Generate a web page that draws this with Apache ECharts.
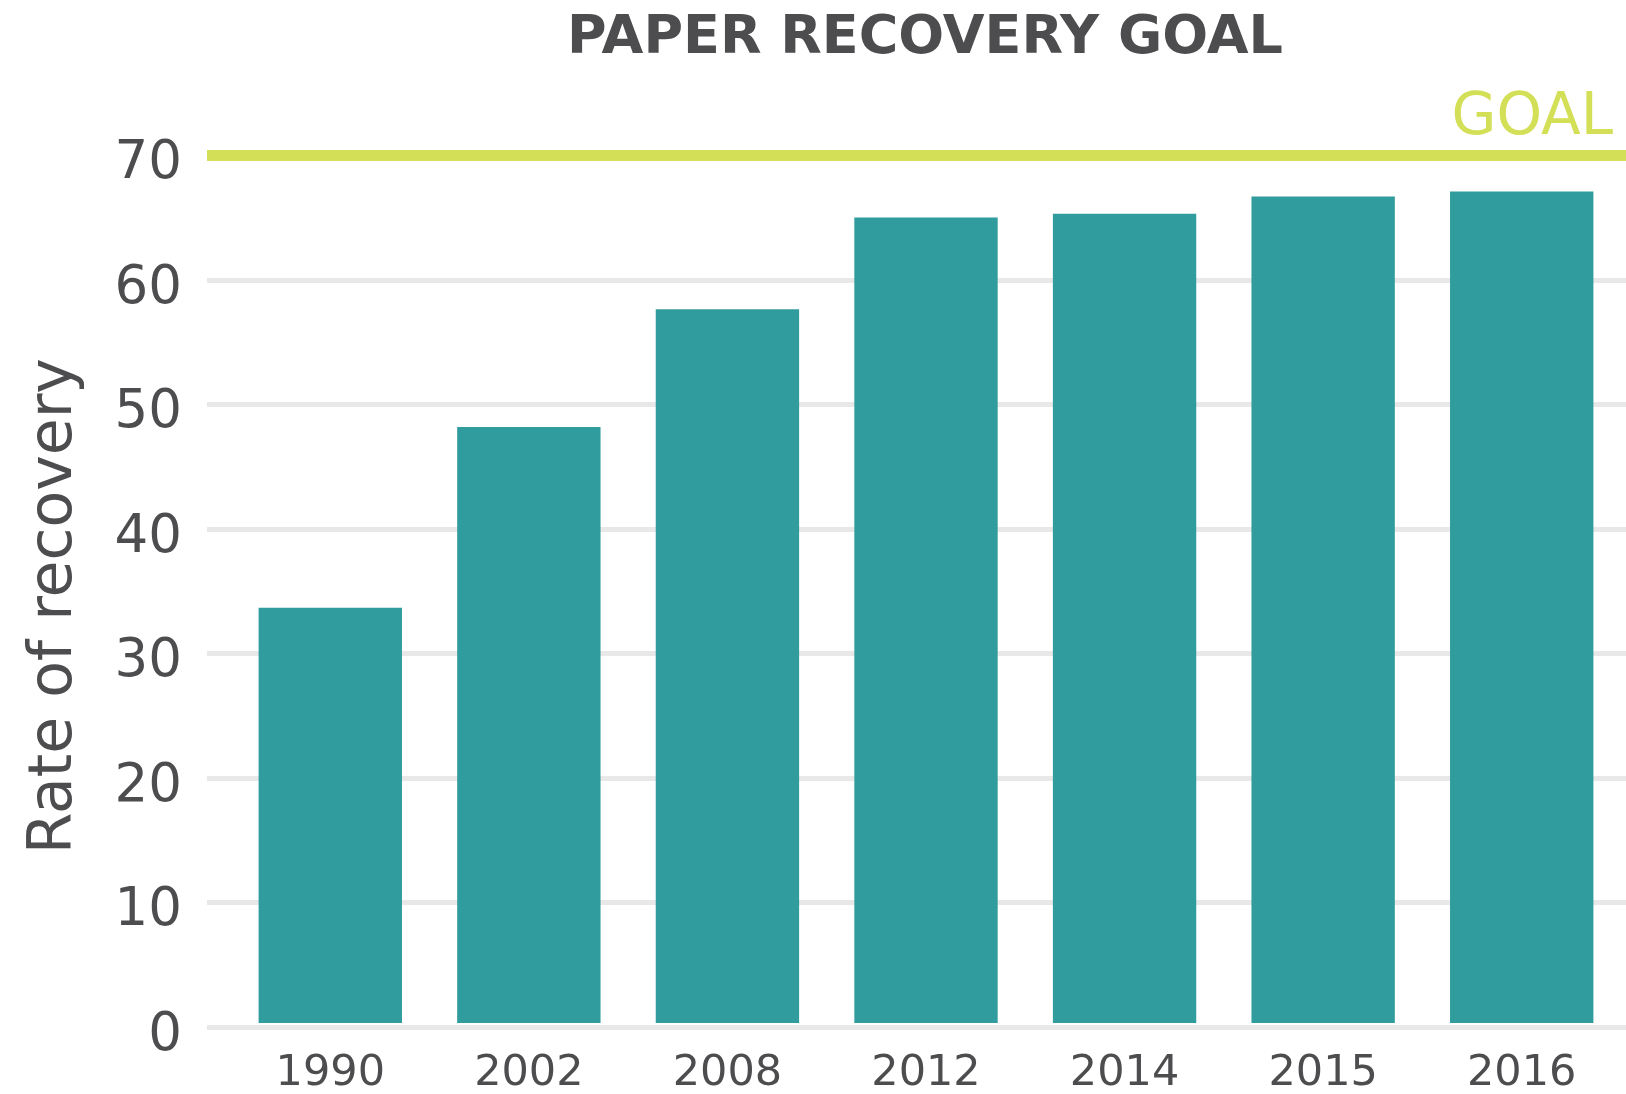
<!DOCTYPE html>
<html>
<head>
<meta charset="utf-8">
<script src="https://cdn.jsdelivr.net/npm/echarts@6/dist/echarts.min.js"></script>
<style>
  html, body { margin: 0; padding: 0; background: #fff; }
  #main { width: 1626px; height: 1094px; }
</style>
</head>
<body>
<div id="main"></div>
<script>
var years = ['1990', '2002', '2008', '2012', '2014', '2015', '2016'];
var recoveryRate = [33.5, 48.1, 57.6, 65.0, 65.3, 66.7, 67.1];
var goalValue = 70;
var yTicks = { min: 0, max: 70, interval: 10 };

var textColor = '#4d4d4f';
var barColor = '#309c9d';
var goalColor = '#d3df56';
var font = 'DejaVu Sans';

var chart = echarts.init(document.getElementById('main'));

var option = {
  backgroundColor: '#ffffff',
  animation: false,
  title: {
    text: 'PAPER RECOVERY GOAL',
    left: 920,
    textAlign: 'center',
    top: 7,
    textStyle: {
      fontFamily: font,
      fontWeight: 'bold',
      fontSize: 54,
      color: textColor
    }
  },
  grid: [
    // gridlines + goal line
    { left: 207, right: 0, top: 155.5, bottom: 67, outerBoundsMode: 'none' },
    // bars
    { left: 231, right: 5, top: 155.5, bottom: 71, outerBoundsMode: 'none' }
  ],
  xAxis: [
    { gridIndex: 0, type: 'value', min: 0, max: 1, show: false },
    {
      gridIndex: 1,
      type: 'category',
      data: years,
      axisLine: { show: false },
      axisTick: { show: false },
      axisLabel: {
        margin: 29,
        fontFamily: font,
        fontSize: 43,
        color: textColor
      }
    }
  ],
  yAxis: [
    {
      gridIndex: 0,
      type: 'value',
      min: yTicks.min,
      max: yTicks.max,
      interval: yTicks.interval,
      name: 'Rate of recovery',
      nameLocation: 'middle',
      nameGap: 122,
      nameTextStyle: {
        fontFamily: font,
        fontSize: 60,
        color: textColor,
        padding: [0, 30, 0, 0]
      },
      axisLine: { show: false },
      axisTick: { show: false },
      axisLabel: {
        margin: 25,
        formatter: function (v) { return '{t|' + v + '}'; },
        rich: {
          t: {
            fontFamily: font,
            fontSize: 53,
            color: textColor,
            padding: [18, 0, 0, 0]
          }
        }
      },
      splitLine: {
        show: true,
        lineStyle: { color: '#e8e8e8', width: 5 }
      }
    },
    {
      gridIndex: 1,
      type: 'value',
      min: yTicks.min,
      max: yTicks.max,
      interval: yTicks.interval,
      show: false,
      splitLine: { show: false }
    }
  ],
  series: [
    {
      type: 'line',
      xAxisIndex: 0,
      yAxisIndex: 0,
      data: [],
      silent: true,
      markLine: {
        symbol: ['none', 'none'],
        silent: true,
        lineStyle: { color: goalColor, width: 11, type: 'solid' },
        label: {
          show: true,
          position: 'insideEndTop',
          formatter: 'GOAL',
          distance: [13, 8],
          fontFamily: font,
          fontSize: 58,
          color: goalColor
        },
        data: [{ yAxis: goalValue }]
      }
    },
    {
      type: 'bar',
      xAxisIndex: 1,
      yAxisIndex: 1,
      data: recoveryRate,
      barCategoryGap: '27.8%',
      itemStyle: { color: barColor }
    }
  ]
};

chart.setOption(option);
</script>
</body>
</html>
